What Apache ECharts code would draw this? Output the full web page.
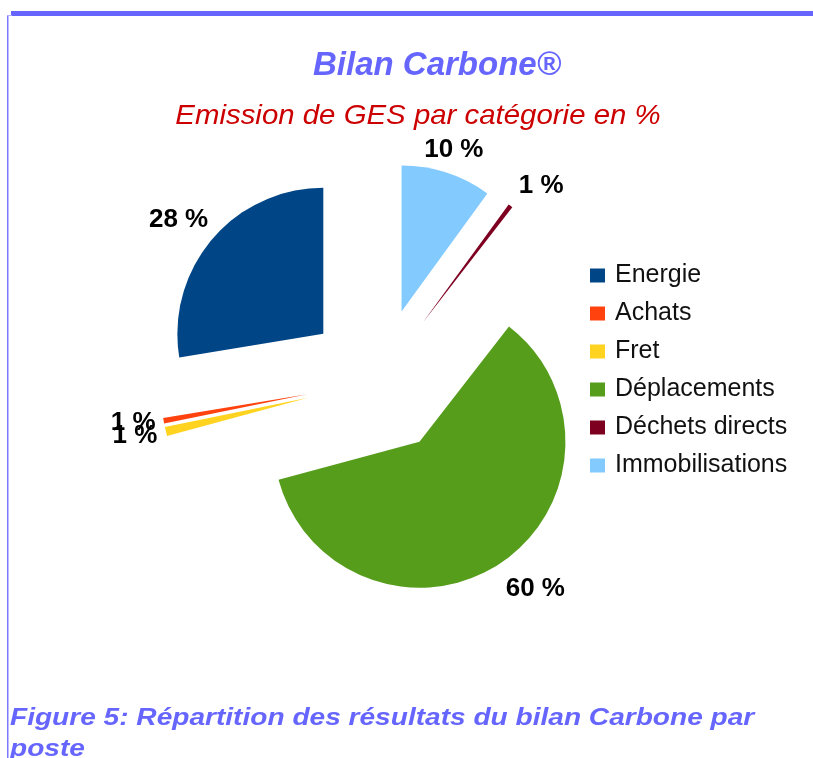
<!DOCTYPE html>
<html>
<head>
<meta charset="utf-8">
<script src="https://cdn.jsdelivr.net/npm/echarts@6/dist/echarts.min.js"></script>
<style>
  html, body { margin: 0; padding: 0; background: #ffffff; }
  #chart { width: 813px; height: 758px; }
</style>
</head>
<body>
<div id="chart"></div>
<script>
// ---- Data ----
const categories = ['Energie', 'Achats', 'Fret', 'Déplacements', 'Déchets directs', 'Immobilisations'];
const shares = [27.6, 0.6, 1.0, 60.3, 0.5, 10.0];   // % of GHG emissions
const titleText = 'Bilan Carbone®';
const subtitleText = 'Emission de GES par catégorie en %';
const captionLines = ['Figure 5: Répartition des résultats du bilan Carbone par', 'poste'];

// ---- Styles ----
const colors = ['#004586', '#ff420e', '#ffd320', '#579d1c', '#7e0021', '#83caff'];
// small per-label nudges to mimic the original label placement
const labelPadX = [[0, 12, 0, 0], [0, 0, 0, 10], [0, 0, 0, 8], [0, 0, 0, 30], [0, 0, 0, 18], [0, 8, 0, 0]];
const labelNudgeY = [4, -4, -4, -4, 9, 11];

const FONT = '"Liberation Sans", Arial, sans-serif';
const pieCenter = [379, 381];

const pieData = categories.map((name, i) => ({
  name: name,
  value: shares[i],
  selected: true,
  itemStyle: { color: colors[i] }
}));
const labelData = categories.map((name, i) => ({
  name: name,
  value: shares[i],
  label: {
    padding: labelPadX[i],
    rich: {
      v: { color: '#000000', fontFamily: FONT, fontWeight: 'bold', fontSize: 26, lineHeight: 30 },
      s: { fontSize: 1, lineHeight: Math.abs(labelNudgeY[i]) * 2 }
    }
  }
}));

const chart = echarts.init(document.getElementById('chart'), null, { renderer: 'canvas' });
chart.setOption({
  animation: false,
  backgroundColor: '#ffffff',
  color: colors,
  legend: {
    orient: 'vertical',
    left: 590,
    top: 263,
    padding: 0,
    icon: 'rect',
    itemWidth: 15,
    itemHeight: 14,
    itemGap: 13,
    selectedMode: false,
    data: categories,
    textStyle: { fontFamily: FONT, fontSize: 25, color: '#111111', padding: [0, 0, 0, 5] }
  },
  series: [
    {
      type: 'pie',
      name: 'GES',
      center: pieCenter,
      radius: [0, 146],
      startAngle: 90,
      clockwise: false,
      selectedMode: 'multiple',
      selectedOffset: 73,
      avoidLabelOverlap: false,
      silent: true,
      label: { show: false },
      labelLine: { show: false },
      emphasis: { disabled: true },
      data: pieData
    },
    {
      type: 'pie',
      name: 'labels',
      center: pieCenter,
      radius: [232, 272],
      startAngle: 90,
      clockwise: false,
      silent: true,
      avoidLabelOverlap: false,
      labelLayout: { hideOverlap: false },
      itemStyle: { color: 'rgba(0,0,0,0)' },
      emphasis: { disabled: true },
      labelLine: { show: false },
      label: {
        show: true,
        position: 'inside',
        color: '#000000',
        fontFamily: FONT,
        fontWeight: 'bold',
        fontSize: 26,
        textBorderWidth: 0,
        formatter: p => {
          const t = '{v|' + Math.round(p.value) + ' %}';
          const dy = labelNudgeY[p.dataIndex];
          if (dy > 0) return '{s| }\n' + t;
          if (dy < 0) return t + '\n{s| }';
          return t;
        }
      },
      data: labelData
    }
  ],
  graphic: [
    { type: 'rect', silent: true, shape: { x: 11, y: 11, width: 802, height: 5 }, style: { fill: '#6666ff' } },
    { type: 'rect', silent: true, shape: { x: 7, y: 15, width: 1.5, height: 743 }, style: { fill: '#7a7aff' } },
    { type: 'rect', silent: true, shape: { x: 7, y: 15, width: 5, height: 1 }, style: { fill: '#b0b0ff' } },
    {
      type: 'text', silent: true, x: 437, y: 66,
      style: { text: titleText, fill: '#6666ff', fontFamily: FONT, fontWeight: 'bold', fontStyle: 'italic', fontSize: 33, align: 'center', verticalAlign: 'middle' }
    },
    {
      type: 'text', silent: true, x: 418, y: 116, scaleX: 1.05,
      style: { text: subtitleText, fill: '#cc0000', fontFamily: FONT, fontStyle: 'italic', fontSize: 28, align: 'center', verticalAlign: 'middle' }
    },
    {
      type: 'text', silent: true, x: 10, y: 703, scaleX: 1.17,
      style: { text: captionLines.join('\n'), fill: '#6666ff', fontFamily: FONT, fontWeight: 'bold', fontStyle: 'italic', fontSize: 24, lineHeight: 31, align: 'left', verticalAlign: 'top' }
    }
  ]
});
</script>
</body>
</html>
